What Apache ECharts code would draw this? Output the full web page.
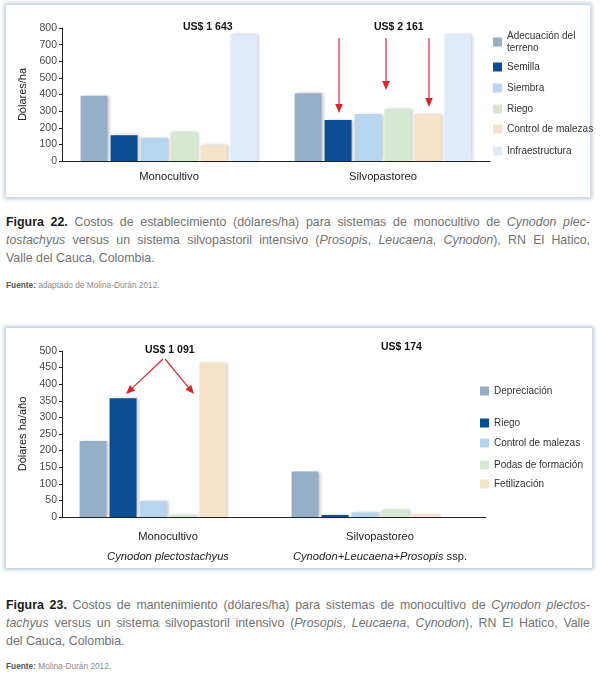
<!DOCTYPE html>
<html><head><meta charset="utf-8">
<script src="https://cdn.jsdelivr.net/npm/echarts@6/dist/echarts.min.js"></script>
<style>
html,body{margin:0;padding:0;background:#fff;}
body{width:600px;height:675px;position:relative;overflow:hidden;font-family:"Liberation Sans",Arial,sans-serif;}
.box{position:absolute;background:#fff;box-shadow:0 0 4px 2px rgba(170,188,210,0.75);}
.chart{position:absolute;left:0;width:600px;}
.cap{position:absolute;left:6px;width:584px;font-size:12.4px;color:#727272;line-height:18px;}
.cap div{text-align:justify;text-align-last:justify;white-space:nowrap;}
.cap div.last{text-align-last:left;}
.cap b{color:#1a1a1a;}
.src{position:absolute;left:6px;font-size:8.3px;color:#8a8a8a;}
.src b{color:#555;}
</style></head>
<body>
<div class="box" style="left:6px;top:5px;width:584px;height:192px;"></div>
<div class="box" style="left:6px;top:328px;width:586px;height:240px;"></div>
<div id="c1" class="chart" style="top:0;height:200px;"></div>
<div id="c2" class="chart" style="top:320px;height:255px;"></div>
<div class="cap" style="top:213px;">
<div><b>Figura 22.</b> Costos de establecimiento (dólares/ha) para sistemas de monocultivo de <i>Cynodon plec-</i></div>
<div><i>tostachyus</i> versus un sistema silvopastoril intensivo (<i>Prosopis</i>, <i>Leucaena</i>, <i>Cynodon</i>), RN El Hatico,</div>
<div class="last">Valle del Cauca, Colombia.</div>
</div>
<div class="src" style="top:280px;"><b>Fuente:</b> adaptado de Molina-Durán 2012.</div>
<div class="cap" style="top:596px;">
<div><b>Figura 23.</b> Costos de mantenimiento (dólares/ha) para sistemas de monocultivo de <i>Cynodon plectos-</i></div>
<div><i>tachyus</i> versus un sistema silvopastoril intensivo (<i>Prosopis</i>, <i>Leucaena</i>, <i>Cynodon</i>), RN El Hatico, Valle</div>
<div class="last">del Cauca, Colombia.</div>
</div>
<div class="src" style="top:661px;"><b>Fuente:</b> Molina-Durán 2012.</div>
<script>
// ---- Figure 22 data ----
var categories1 = ['Monocultivo', 'Silvopastoreo'];
var seriesNames1 = ['Adecuación del terreno', 'Semilla', 'Siembra', 'Riego', 'Control de malezas', 'Infraestructura'];
var adecuacion = [393, 408];
var semilla = [155, 246];
var siembra = [140, 283];
var riego1 = [172, 312];
var control1 = [95, 283];
var infraestructura = [762, 765];
var totals1 = ['US$ 1 643', 'US$ 2 161'];
var yTicks1 = {min: 0, max: 800, interval: 100};

// ---- Figure 23 data ----
var categories2 = ['Monocultivo', 'Silvopastoreo'];
var species2 = ['Cynodon plectostachyus', 'Cynodon+Leucaena+Prosopis'];
var seriesNames2 = ['Depreciación', 'Riego', 'Control de malezas', 'Podas de formación', 'Fetilización'];
var depreciacion = [229, 137];
var riego2 = [358, 6];
var control2 = [48, 14];
var podas = [6, 22];
var fertilizacion = [465, 8];
var totals2 = ['US$ 1 091', 'US$ 174'];
var yTicks2 = {min: 0, max: 500, interval: 50};

var colors = ['#95AFC8', '#0B4E93', '#B8D5F0', '#D6E8D2', '#F4E2C9', '#DFEBF8'];
var FONT = '"Liberation Sans",Arial,sans-serif';
var RED = '#D6262C';

function arrow(x1, y1, x2, y2) {
  var dx = x2 - x1, dy = y2 - y1, len = Math.sqrt(dx*dx + dy*dy);
  var ux = dx/len, uy = dy/len, hl = 9, hw = 3.8;
  var bx = x2 - ux*hl, by = y2 - uy*hl;
  return [
    {type:'line', shape:{x1:x1, y1:y1, x2:bx, y2:by}, style:{stroke:RED, lineWidth:1.2}, z:10},
    {type:'polygon', shape:{points:[[x2,y2],[bx - uy*hw, by + ux*hw],[bx + uy*hw, by - ux*hw]]}, style:{fill:RED}, z:10}
  ];
}

function barSeries(name, data, color) {
  return {
    name: name, type: 'bar', data: data, barWidth: 27, barGap: '11%',
    itemStyle: {color: color, shadowColor: 'rgba(0,0,0,0.22)', shadowBlur: 3, shadowOffsetX: 2, shadowOffsetY: 0},
    animation: false
  };
}

function legendAt(name, left, top, formatter) {
  var l = {
    data: [name], left: left, top: top, orient: 'vertical', icon: 'rect',
    itemWidth: 9, itemHeight: 9, itemGap: 0, itemStyle: {shadowBlur: 0}, selectedMode: false,
    textStyle: {fontFamily: FONT, fontSize: 10, color: '#333', lineHeight: 12}
  };
  if (formatter) l.formatter = formatter;
  return l;
}

var axisY = function (t, name, gap) {
  return {
    type: 'value', min: t.min, max: t.max, interval: t.interval,
    name: name, nameLocation: 'middle', nameGap: gap, nameRotate: 90,
    nameTextStyle: {fontFamily: FONT, fontSize: 11, color: '#222'},
    axisLine: {show: true, lineStyle: {color: '#222', width: 1}},
    axisTick: {show: true, length: 3, lineStyle: {color: '#222'}},
    axisLabel: {fontFamily: FONT, fontSize: 10.5, color: '#4a4a4a', margin: 5},
    splitLine: {show: false}
  };
};

// ---- Chart 1 ----
var c1 = echarts.init(document.getElementById('c1'), null, {renderer: 'canvas'});
var data1 = [adecuacion, semilla, siembra, riego1, control1, infraestructura];
var g1 = [];
g1.push({type:'text', left: 183, top: 22, style:{text: totals1[0], font: 'bold 10.5px ' + FONT, fill:'#111'}});
g1.push({type:'text', left: 374, top: 22, style:{text: totals1[1], font: 'bold 10.5px ' + FONT, fill:'#111'}});
g1 = g1.concat(arrow(339, 38, 339, 113), arrow(386, 38, 386, 90), arrow(429, 38, 429, 107));
var legTops1 = [25, 56, 77, 98, 118, 140];
c1.setOption({
  animation: false,
  grid: {left: 62, width: 428, top: 28, height: 133},
  xAxis: {
    type: 'category', data: categories1,
    axisLine: {lineStyle: {color: '#222', width: 1}}, axisTick: {show: false},
    axisLabel: {interval: 0, fontFamily: FONT, fontSize: 11.2, color: '#222', margin: 10}
  },
  yAxis: axisY(yTicks1, 'Dólares/ha', 25),
  legend: seriesNames1.map(function (n, i) {
    return legendAt(n, 488, legTops1[i], i === 0 ? function () { return 'Adecuación del\nterreno'; } : null);
  }),
  series: seriesNames1.map(function (n, i) { return barSeries(n, data1[i], colors[i]); }),
  graphic: g1
});

// ---- Chart 2 ----
var c2 = echarts.init(document.getElementById('c2'), null, {renderer: 'canvas'});
var data2 = [depreciacion, riego2, control2, podas, fertilizacion];
var colors2 = [colors[0], colors[1], colors[2], colors[3], colors[4]];
var s2 = seriesNames2.map(function (n, i) { return barSeries(n, data2[i], colors2[i]); });
s2.push(barSeries('_slot', [null, null], 'transparent'));
var g2 = [];
g2.push({type:'text', left: 145, top: 25, style:{text: totals2[0], font: 'bold 10.5px ' + FONT, fill:'#111'}});
g2.push({type:'text', left: 381, top: 22, style:{text: totals2[1], font: 'bold 10.5px ' + FONT, fill:'#111'}});
g2 = g2.concat(arrow(163, 39, 126, 74), arrow(165, 39, 194, 74));
var legTops2 = [60, 92, 112, 134, 153];
c2.setOption({
  animation: false,
  grid: {left: 62, width: 424, top: 31, height: 166},
  xAxis: {
    type: 'category', data: categories2,
    axisLine: {lineStyle: {color: '#222', width: 1}}, axisTick: {show: false},
    axisLabel: {
      interval: 0, margin: 10, lineHeight: 20,
      formatter: function (v, idx) {
        if (idx === 0) return '{a|' + v + '}\n{i|' + species2[0] + '}';
        return '{a|' + v + '}\n{i|' + species2[1] + '}{a| ssp.}';
      },
      rich: {
        a: {fontFamily: FONT, fontSize: 11.2, color: '#222', lineHeight: 20},
        i: {fontFamily: FONT, fontSize: 11.2, color: '#222', fontStyle: 'italic', lineHeight: 20}
      }
    }
  },
  yAxis: axisY(yTicks2, 'Dólares ha/año', 25),
  legend: seriesNames2.map(function (n, i) { return legendAt(n, 475, legTops2[i]); }),
  series: s2,
  graphic: g2
});
</script>
</body></html>
